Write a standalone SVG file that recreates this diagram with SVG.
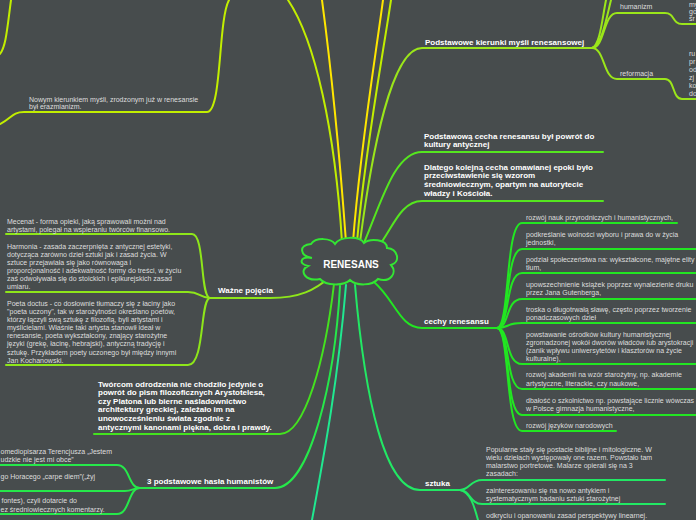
<svg xmlns="http://www.w3.org/2000/svg" width="696" height="520" viewBox="0 0 696 520">
<style>
.bg{fill:#474c4d}
.c{fill:none;stroke-width:2;stroke-linecap:round;stroke-linejoin:round}
.s{font-family:"Liberation Sans",Arial,sans-serif;font-size:7px;fill:#dedede}
.b{font-family:"Liberation Sans",Arial,sans-serif;font-size:8px;font-weight:bold;fill:#ffffff}
.yg{stroke:#c2ee00}
.y{stroke:#ffe600}
.lg{stroke:#9be61a}
.g1{stroke:#55e61f}
.g2{stroke:#22e622}
.g3{stroke:#26e84a}
.g4{stroke:#22e864}
.g5{stroke:#20e890}
.g6{stroke:#8ee61a}
.g7{stroke:#44e21f}
</style>
<rect class="bg" x="0" y="0" width="696" height="520"/>
<g id="connectors">
<path class="c yg" d="M0,54 C6,46 7,30 11,0"/>
<path class="c yg" d="M0,124 C12,118 12,112 24,112 L207,112 C222,112 218,20 229,0"/>
<path class="c yg" d="M342,242 C335,130 315,40 288,0"/>
<path class="c y" d="M346,242 C340,160 330,60 322,0"/>
<path class="c y" d="M353,242 C360,150 375,60 383,0"/>
<path class="c yg" d="M357,242 C365,150 382,60 391,0"/>
<path class="c lg" d="M360,242 C372,150 392,48 422,48 L592,48"/>
<path class="c lg" d="M592,48 C605,48 603,13 617,13 L665,13 C675,13 672,24 682,24 L696,24"/>
<path class="c lg" d="M592,48 C605,48 603,79 617,79 L665,79 C675,79 672,99 682,99 L696,99"/>
<path class="c lg" d="M592,48 C600,45 602,20 606,0"/>
<path class="c lg" d="M592,48 C602,44 606,20 611,0"/>
<path class="c g1" d="M364,243 C382,200 395,152 422,152 L603,152"/>
<path class="c g1" d="M378,247 C392,230 400,201 422,201 L603,201"/>
<path class="c g2" d="M374,282 C395,300 400,328 422,328 L497,328"/>
<path class="c g2" d="M497,328 C510,328 505,223 522,223 L677,223"/>
<path class="c g2" d="M497,328 C510,328 505,249 522,249 L696,249"/>
<path class="c g2" d="M497,328 C510,328 505,273 522,273 L696,273"/>
<path class="c g2" d="M497,328 C510,328 505,299 522,299 L696,299"/>
<path class="c g2" d="M497,328 C510,328 505,323 522,323 L696,323"/>
<path class="c g2" d="M497,328 C510,328 505,364 522,364 L696,364"/>
<path class="c g2" d="M497,328 C510,328 505,389 522,389 L696,389"/>
<path class="c g2" d="M497,328 C510,328 505,415 522,415 L696,415"/>
<path class="c g2" d="M497,328 C510,328 505,431 522,431 L616,431"/>
<path class="c g4" d="M355,285 C365,400 385,490 420,490 L460,490"/>
<path class="c g4" d="M460,490 C470,490 470,480 482,480 L665,480"/>
<path class="c g4" d="M460,490 C470,490 470,504 482,504 L665,504"/>
<path class="c g4" d="M460,490 C470,492 474,505 478,520"/>
<path class="c g5" d="M346,285 C338,380 325,450 312,520"/>
<path class="c g3" d="M340,286 C335,380 310,488 275,488 L140,488"/>
<path class="c g3" d="M140,488 C128,488 130,465 117,465 L0,465"/>
<path class="c g3" d="M140,488 C134,488 132,491 125,491 L0,491"/>
<path class="c g3" d="M140,488 C128,488 130,514 117,514 L0,514"/>
<path class="c g7" d="M334,284 C325,360 305,434 280,434 L94,434"/>
<path class="c g6" d="M330,277 C315,290 300,298 270,298 L210,298"/>
<path class="c g6" d="M210,298 C200,298 205,234 192,234 L6,234"/>
<path class="c g6" d="M210,298 C200,298 200,292 188,292 L6,292"/>
<path class="c g6" d="M210,298 C200,298 205,365 188,365 L6,365"/>
</g>
<g id="center">
<path d="M312,258 C300,256 298,245 311,244 C316,237 331,238 335,244 C340,236 360,236 364,243 C370,238 387,239 387,248 C398,249 401,262 391,265 C398,273 390,283 378,279 C372,286 356,286 350,280 C344,286 326,286 320,279 C306,282 298,271 308,266 C298,264 300,256 312,258 Z" fill="#474c4d" stroke="#33e633" stroke-width="2"/>
<text x="351" y="267.5" text-anchor="middle" font-family="Liberation Sans,Arial,sans-serif" font-size="10px" font-weight="bold" fill="#ffffff">RENESANS</text>
</g>
<g id="node-nowym"><text class="s"><tspan x="29" y="101.5">Nowym kierunkiem myśli, zrodzonym już w renesansie</tspan><tspan x="29" y="109">był erazmianizm.</tspan></text></g>
<g id="node-kierunki"><text class="b" x="425" y="44.5">Podstawowe kierunki myśli renesansowej</text></g>
<g id="node-humanizm"><text class="s" x="620" y="9">humanizm</text></g>
<g id="node-humanizm-text"><text class="s"><tspan x="689" y="6.5">my</tspan><tspan x="689" y="13.7">go</tspan><tspan x="689" y="21">śr</tspan></text></g>
<g id="node-reformacja"><text class="s" x="620" y="75.7">reformacja</text></g>
<g id="node-reformacja-text"><text class="s"><tspan x="689" y="55.7">ru</tspan><tspan x="689" y="64">pr</tspan><tspan x="689" y="72.4">od</tspan><tspan x="689" y="80">zj</tspan><tspan x="689" y="88">ko</tspan><tspan x="689" y="95.7">do</tspan></text></g>
<g id="node-podstawowa"><text class="b"><tspan x="424" y="138.5">Podstawową cecha renesansu był powrót do</tspan><tspan x="424" y="147">kultury antycznej</tspan></text></g>
<g id="node-dlatego"><text class="b"><tspan x="424" y="169.5">Dlatego kolejną cecha omawianej epoki było</tspan><tspan x="424" y="178.3">przeciwstawienie się wzorom</tspan><tspan x="424" y="187.1">średniowiecznym, opartym na autorytecie</tspan><tspan x="424" y="195.9">władzy i Kościoła.</tspan></text></g>
<g id="node-cechy"><text class="b" x="424" y="324">cechy renesansu</text></g>
<g id="node-cechy-items">
<text class="s" x="526" y="219.7">rozwój nauk przyrodniczych i humanistycznych,</text>
<text class="s"><tspan x="526" y="236.7">podkreślanie wolności wyboru i prawa do w życia</tspan><tspan x="526" y="245.1">jednostki,</tspan></text>
<text class="s"><tspan x="526" y="261.7">podział społeczeństwa na: wykształcone, majętne elity</tspan><tspan x="526" y="270.1">tłum,</tspan></text>
<text class="s"><tspan x="526" y="286.7">upowszechnienie książek poprzez wynalezienie druku</tspan><tspan x="526" y="295.1">przez Jana Gutenberga,</tspan></text>
<text class="s"><tspan x="526" y="311.7">troska o długotrwałą sławę, często poprzez tworzenie</tspan><tspan x="526" y="320.1">ponadczasowych dzieł</tspan></text>
<text class="s"><tspan x="526" y="336.7">powstawanie ośrodków kultury humanistycznej</tspan><tspan x="526" y="345.1">zgromadzonej wokół dworów władców lub arystokracji</tspan><tspan x="526" y="353.1">(zanik wpływu uniwersytetów i klasztorów na życie</tspan><tspan x="526" y="361.1">kulturalne),</tspan></text>
<text class="s"><tspan x="526" y="377.4">rozwój akademii na wzór starożytny, np. akademie</tspan><tspan x="526" y="385.7">artystyczne, literackie, czy naukowe,</tspan></text>
<text class="s"><tspan x="526" y="403.4">dbałość o szkolnictwo np. powstające licznie wówczas</tspan><tspan x="526" y="411.4">w Polsce gimnazja humanistyczne,</tspan></text>
<text class="s" x="526" y="428.1">rozwój języków narodowych</text>
</g>
<g id="node-wazne"><text class="b" x="218" y="293">Ważne pojęcia</text></g>
<g id="node-mecenat"><text class="s"><tspan x="7" y="224">Mecenat - forma opieki, jaką sprawowali możni nad</tspan><tspan x="7" y="231.7">artystami, polegał na wspieraniu twórców finansowo.</tspan></text></g>
<g id="node-harmonia"><text class="s"><tspan x="7" y="248.5">Harmonia - zasada zaczerpnięta z antycznej estetyki,</tspan><tspan x="7" y="256.6">dotycząca zarówno dzieł sztuki jak i zasad życia. W</tspan><tspan x="7" y="264.7">sztuce przejawiała się jako równowaga i</tspan><tspan x="7" y="272.8">proporcjonalność i adekwatność formy do treści, w życiu</tspan><tspan x="7" y="280.9">zaś odwoływała się do stoickich i epikurejskich zasad</tspan><tspan x="7" y="289">umiaru.</tspan></text></g>
<g id="node-poeta"><text class="s"><tspan x="7" y="305.7">Poeta doctus - co dosłownie tłumaczy się z łaciny jako</tspan><tspan x="7" y="313.7">"poeta uczony", tak w starożytności określano poetów,</tspan><tspan x="7" y="321.7">którzy łączyli swą sztukę z filozofią, byli artystami i</tspan><tspan x="7" y="330">myślicielami. Właśnie taki artysta stanowił ideał w</tspan><tspan x="7" y="338.4">renesansie, poeta wykształcony, znający starożytne</tspan><tspan x="7" y="346.4">języki (grekę, łacinę, hebrajski), antyczną tradycję i</tspan><tspan x="7" y="354.7">sztukę. Przykładem poety uczonego był między innymi</tspan><tspan x="7" y="362.7">Jan Kochanowski.</tspan></text></g>
<g id="node-tworcom"><text class="b"><tspan x="98" y="386.6">Twórcom odrodzenia nie chodziło jedynie o</tspan><tspan x="98" y="395.2">powrót do pism filozoficznych Arystotelesa,</tspan><tspan x="98" y="403.8">czy Platona lub bierne naśladownictwo</tspan><tspan x="98" y="412.4">architektury greckiej, zależało im na</tspan><tspan x="98" y="421.1">unowocześnieniu świata zgodnie z</tspan><tspan x="98" y="429.8">antycznymi kanonami piękna, dobra i prawdy.</tspan></text></g>
<g id="node-hasla"><text class="b" x="147" y="483.5">3 podstawowe hasła humanistów</text></g>
<g id="node-hasla-items">
<text class="s"><tspan x="0.5" y="454.1">omediopisarza Terencjusza „Jestem</tspan><tspan x="0.5" y="461.7">udzkie nie jest mi obce”</tspan></text>
<text class="s" x="0.5" y="479.1">go Horacego „carpe diem”(„żyj</text>
<text class="s"><tspan x="1.5" y="503.4">fontes), czyli dotarcie do</tspan><tspan x="0.5" y="511.7">ez średniowiecznych komentarzy.</tspan></text>
</g>
<g id="node-sztuka"><text class="b" x="425" y="485.5">sztuka</text></g>
<g id="node-sztuka-items">
<text class="s"><tspan x="486" y="451.7">Popularne stały się postacie biblijne i mitologiczne. W</tspan><tspan x="486" y="459.7">wielu dziełach występowały one razem. Powstało tam</tspan><tspan x="486" y="468.1">malarstwo portretowe. Malarze opierali się na 3</tspan><tspan x="486" y="475.7">zasadach:</tspan></text>
<text class="s"><tspan x="486" y="493.1">zainteresowaniu się na nowo antykiem i</tspan><tspan x="486" y="501.1">systematycznym badaniu sztuki starożytnej</tspan></text>
<text class="s" x="486" y="518.4">odkryciu i opanowaniu zasad perspektywy linearnej.</text>
</g>
</svg>
